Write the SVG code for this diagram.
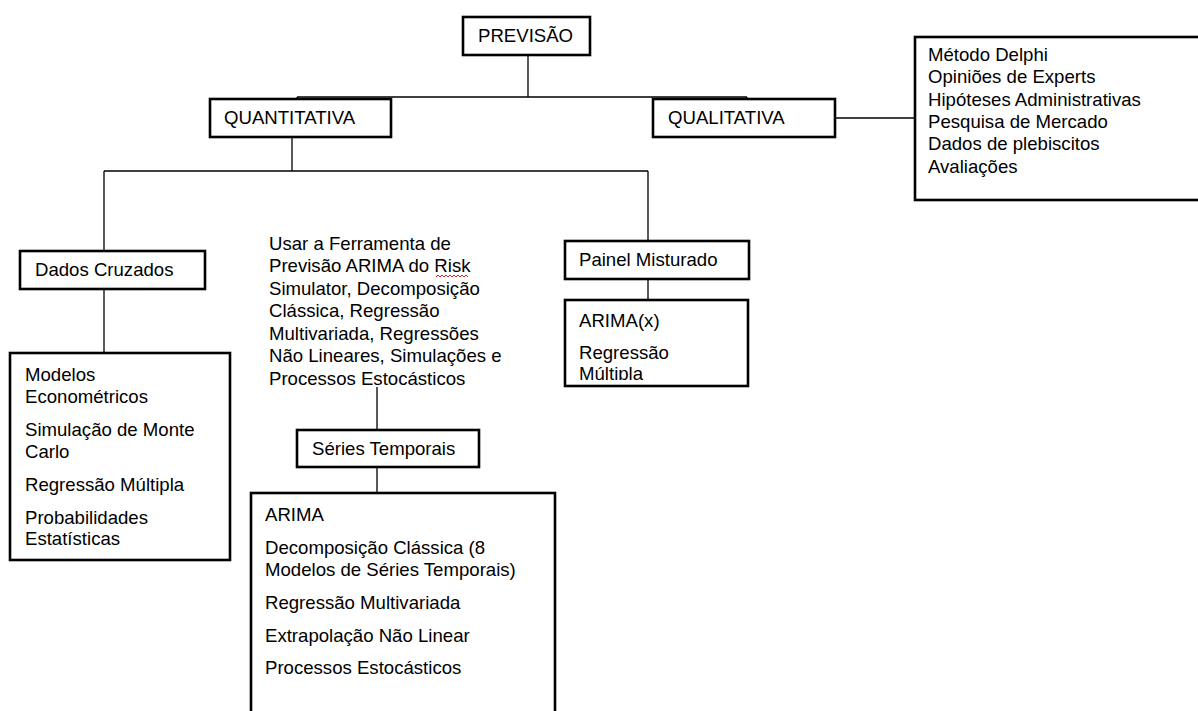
<svg xmlns="http://www.w3.org/2000/svg" width="1198" height="711" viewBox="0 0 1198 711">
<style>
  .box { fill: #ffffff; stroke: #000000; stroke-width: 2.6; }
  .t { font-family: "Liberation Sans", Arial, sans-serif; font-size: 18.6px; fill: #000000; }
  .ln { stroke: #000000; stroke-width: 1.3; fill: none; }
</style>
<defs>
  <clipPath id="clipArx"><rect x="566" y="301" width="181" height="79"/></clipPath>
</defs>
<rect width="1198" height="711" fill="#ffffff"/>
<g id="connectors">
  <path class="ln" d="M528,55 V97 M297,97 H747 M297,97 V99 M747,97 V99"/>
  <path class="ln" d="M835,118 H915"/>
  <path class="ln" d="M292,137 V171 M104,171 H648 M104,171 V251 M648,171 V241"/>
  <path class="ln" d="M104,289 V353"/>
  <path class="ln" d="M648,279 V300"/>
  <path class="ln" d="M377,387 V430 M377,467 V493"/>
</g>
<g id="previsao">
  <rect class="box" x="463" y="17" width="127" height="38"/>
  <text class="t" x="478" y="42">PREVISÃO</text>
</g>
<g id="quantitativa">
  <rect class="box" x="210" y="99" width="181" height="38"/>
  <text class="t" x="224" y="124">QUANTITATIVA</text>
</g>
<g id="qualitativa">
  <rect class="box" x="653" y="99" width="182" height="38"/>
  <text class="t" x="668" y="124">QUALITATIVA</text>
</g>
<g id="qualitativa-list">
  <rect class="box" x="915" y="37" width="290" height="163"/>
  <text class="t" x="928" y="61">Método Delphi</text>
  <text class="t" x="928" y="83">Opiniões de Experts</text>
  <text class="t" x="928" y="106">Hipóteses Administrativas</text>
  <text class="t" x="928" y="128">Pesquisa de Mercado</text>
  <text class="t" x="928" y="150">Dados de plebiscitos</text>
  <text class="t" x="928" y="173">Avaliações</text>
</g>
<g id="dados-cruzados">
  <rect class="box" x="20" y="251" width="185" height="38"/>
  <text class="t" x="35" y="276">Dados Cruzados</text>
</g>
<g id="dados-cruzados-list">
  <rect class="box" x="10" y="353" width="220" height="207"/>
  <text class="t" x="25" y="381">Modelos</text>
  <text class="t" x="25" y="403">Econométricos</text>
  <text class="t" x="25" y="436">Simulação de Monte</text>
  <text class="t" x="25" y="458">Carlo</text>
  <text class="t" x="25" y="491">Regressão Múltipla</text>
  <text class="t" x="25" y="524">Probabilidades</text>
  <text class="t" x="25" y="545">Estatísticas</text>
</g>
<g id="ferramenta">
  <text class="t" x="269" y="250">Usar a Ferramenta de</text>
  <text class="t" x="269" y="272">Previsão ARIMA do Risk</text>
  <text class="t" x="269" y="295">Simulator, Decomposição</text>
  <text class="t" x="269" y="317">Clássica, Regressão</text>
  <text class="t" x="269" y="340">Multivariada, Regressões</text>
  <text class="t" x="269" y="362">Não Lineares, Simulações e</text>
  <text class="t" x="269" y="385">Processos Estocásticos</text>
  <path d="M436,277 l2,-2 l2,2 l2,-2 l2,2 l2,-2 l2,2 l2,-2 l2,2 l2,-2 l2,2 l2,-2 l2,2 l2,-2 l2,2 l2,-2 l2,2" fill="none" stroke="#e02020" stroke-width="1"/>
</g>
<g id="series-temporais">
  <rect class="box" x="297" y="430" width="182" height="37"/>
  <text class="t" x="312" y="455">Séries Temporais</text>
</g>
<g id="series-list">
  <rect class="box" x="251" y="493" width="304" height="230"/>
  <text class="t" x="265" y="521">ARIMA</text>
  <text class="t" x="265" y="554">Decomposição Clássica (8</text>
  <text class="t" x="265" y="576">Modelos de Séries Temporais)</text>
  <text class="t" x="265" y="609">Regressão Multivariada</text>
  <text class="t" x="265" y="642">Extrapolação Não Linear</text>
  <text class="t" x="265" y="674">Processos Estocásticos</text>
</g>
<g id="painel-misturado">
  <rect class="box" x="565" y="241" width="184" height="38"/>
  <text class="t" x="579" y="266">Painel Misturado</text>
</g>
<g id="painel-list">
  <rect class="box" x="565" y="300" width="183" height="86"/>
  <g clip-path="url(#clipArx)">
    <text class="t" x="579" y="327">ARIMA(x)</text>
    <text class="t" x="579" y="359">Regressão</text>
    <text class="t" x="579" y="380">Múltipla</text>
  </g>
</g>
</svg>
